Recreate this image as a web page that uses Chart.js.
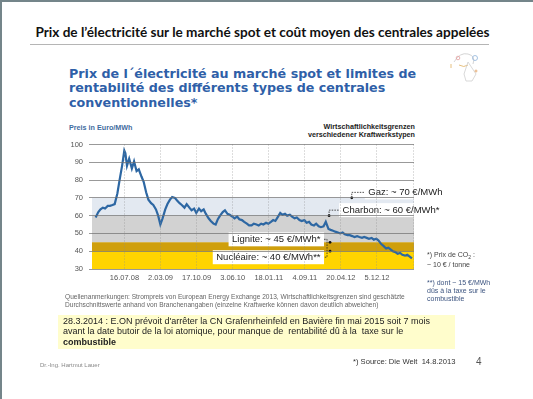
<!DOCTYPE html>
<html>
<head>
<meta charset="utf-8">
<script src="https://cdn.jsdelivr.net/npm/chart.js@4.4.1/dist/chart.umd.min.js"></script>
<style>
  body { margin: 0; background: #fff; }
  #slide { position: relative; width: 533px; height: 399px; overflow: hidden; background: #fff;
           font-family: "Liberation Sans", Arial, sans-serif; }
  #slide div { position: absolute; white-space: nowrap; }
  .frame { left: 0; top: 0; width: 533px; height: 399px; border-top: 2px solid #74858a; border-left: 2px solid #74858a; box-sizing: border-box; }
  #title { left: 0; top: 24px; width: 525px; text-align: center; font: 700 13.6px/16px Lato, sans-serif; color: #111; }
  #rule { left: 30px; top: 44px; width: 459px; height: 1px; background: #b5b5b5; }
  #logo { left: 446px; top: 48px; }
  #head { left: 69px; top: 67px; font-family: "DejaVu Sans", sans-serif; font-weight: 700; font-size: 12.7px; line-height: 14.3px; color: #2f5fa8; }
  #unit { left: 69px; top: 124px; font-weight: 700; font-size: 7.2px; line-height: 8px; color: #3f6ca0; }
  #wirt { left: 295px; top: 123px; width: 120px; text-align: right; font-weight: 700; font-size: 7.2px; line-height: 7.5px; color: #222; }
  #chartBox { left: 58px; top: 134px; width: 445px; height: 152px; }
  #note1 { left: 427px; top: 251px; font-size: 7px; line-height: 8px; color: #444; }
  #note2 { left: 427px; top: 279px; font-size: 7px; line-height: 8px; color: #3d5580; }
  #src { left: 65px; top: 293px; font-size: 6.6px; line-height: 7.5px; color: #666; }
  #news { left: 58px; top: 315px; width: 392px; height: 33px; background: #fffdcc; padding: 1px 0 0 5px;
          font-size: 9px; line-height: 10.3px; color: #222; }
  #author { left: 40px; top: 362px; font-size: 6px; color: #888; }
  #welt { left: 353px; top: 357px; font-size: 7.6px; color: #333; }
  #page { left: 476px; top: 356px; font-size: 10px; color: #555; }
</style>
</head>
<body>
<div id="slide">
  <div class="frame"></div>
  <div id="title">Prix de l’électricité sur le marché spot et coût moyen des centrales appelées</div>
  <div id="rule"></div>
  <div id="logo"><svg width="40" height="36" viewBox="0 0 40 36" fill="none" stroke-width="0.8">
    <path d="M8 14 Q14 4 22 6 Q30 8 27 16" stroke="#c9c9c9"/>
    <circle cx="29" cy="10" r="2.5" stroke="#8fb4dc"/>
    <circle cx="12" cy="10" r="1.8" stroke="#e3a0a0"/>
    <path d="M5 16 L5 20 M13 17 Q18 20 22 17" stroke="#e0b060"/>
    <path d="M22 14 L30 26 L26 33 L20 33 L18 26 Z" stroke="#cfcfcf"/>
    <circle cx="30" cy="23" r="1" stroke="#e0a060"/>
  </svg></div>
  <div id="head">Prix de l´électricité au marché spot et limites de<br>rentabilité des différents types de centrales<br>conventionnelles*</div>
  <div id="unit">Preis in Euro/MWh</div>
  <div id="wirt">Wirtschaftlichkeitsgrenzen<br>verschiedener Kraftwerkstypen</div>
  <div id="chartBox"><canvas id="priceChart" width="445" height="152"></canvas></div>
  <div id="note1">*) Prix de CO<sub style="font-size:5px">2</sub> :<br>~ 10 € / tonne</div>
  <div id="note2">**) dont ~ 15 €/MWh<br>dûs à la taxe sur le<br>combustible</div>
  <div id="src">Quellenanmerkungen: Strompreis von European Energy Exchange 2013, Wirtschaftlichkeitsgrenzen sind geschätzte<br>Durchschnittswerte anhand von Branchenangaben (einzelne Kraftwerke können davon deutlich abweichen)</div>
  <div id="news">28.3.2014 : E.ON prévoit d'arrêter la CN Grafenrheinfeld en Bavière fin mai 2015 soit 7 mois<br>avant la date butoir de la loi atomique, pour manque de&nbsp; rentabilité dû à la&nbsp; taxe sur le<br><b>combustible</b></div>
  <div id="author">Dr.-Ing. Hartmut Lauer</div>
  <div id="welt">*) Source: Die Welt&nbsp; 14.8.2013</div>
  <div id="page">4</div>
</div>
<script>
// spot price, Euro/MWh (about twice a month)
const dates = [
  '2008-01-15','2008-02-01','2008-02-15','2008-03-01','2008-03-15','2008-04-01','2008-04-15','2008-05-01','2008-05-15','2008-06-01','2008-06-15','2008-07-01','2008-07-15','2008-07-22',
  '2008-08-01','2008-08-15','2008-09-01','2008-09-15','2008-10-01','2008-10-15','2008-11-01','2008-11-15','2008-12-01','2008-12-15',
  '2009-01-01','2009-01-15','2009-02-01','2009-02-15','2009-03-01','2009-03-15','2009-04-01','2009-04-15','2009-05-01','2009-05-15','2009-06-01','2009-06-15',
  '2009-07-01','2009-07-15','2009-08-01','2009-08-15','2009-09-01','2009-09-15','2009-10-01','2009-10-15','2009-11-01','2009-11-15','2009-12-01','2009-12-15',
  '2010-01-01','2010-01-15','2010-02-01','2010-02-15','2010-03-01','2010-03-15','2010-04-01','2010-04-15','2010-05-01','2010-05-15','2010-06-01','2010-06-15',
  '2010-07-01','2010-07-15','2010-08-01','2010-08-15','2010-09-01','2010-09-15','2010-10-01','2010-10-15','2010-11-01','2010-11-15','2010-12-01','2010-12-15',
  '2011-01-01','2011-01-15','2011-02-01','2011-02-15','2011-03-01','2011-03-15','2011-04-01','2011-04-15','2011-05-01','2011-05-15','2011-06-01','2011-06-15',
  '2011-07-01','2011-07-15','2011-08-01','2011-08-15','2011-09-01','2011-09-15','2011-10-01','2011-10-15','2011-11-01','2011-11-15','2011-12-01','2011-12-15',
  '2012-01-01','2012-01-15','2012-02-01','2012-02-15','2012-03-01','2012-03-15','2012-04-01','2012-04-15','2012-05-01','2012-05-15','2012-06-01','2012-06-15',
  '2012-07-01','2012-07-15','2012-08-01','2012-08-15','2012-09-01','2012-09-15','2012-10-01','2012-10-15','2012-11-01','2012-11-15','2012-12-01','2012-12-15',
  '2013-01-01','2013-01-15','2013-02-01','2013-02-15','2013-03-01','2013-03-15','2013-04-01','2013-04-15','2013-05-01','2013-05-15','2013-06-01','2013-06-15',
  '2013-07-01','2013-07-15'
];
const prices = [
  59, 62, 63.5, 64.5, 64, 65.5, 65.5, 66, 66.5, 72.5, 80, 88, 96.5, 95,
  88, 92, 86.5, 90.5, 85, 86, 82, 79, 73, 69,
  67, 66, 63.5, 60, 55, 58.5, 63.5, 66.5, 69, 70.5, 70, 68.5,
  67, 66, 64.5, 66.5, 64.5, 63, 64, 61.5, 64, 62.5, 63.5, 61,
  58.5, 57, 55.5, 55, 58, 60, 62, 63, 61, 60.5, 59.5, 58.5,
  59.5, 58, 57.5, 56.5, 55.5, 54.5, 54.5, 55.5, 55, 54.5, 55.5, 55,
  56, 55.5, 56.5, 57.5, 57, 59, 61.5, 60.5, 61, 60, 60.5, 59.5,
  58.5, 59, 57.5, 57, 57.5, 56, 56.5, 55, 54.5, 55.5, 54, 53.5,
  54, 56.5, 52.5, 52, 51.5, 51, 50.5, 50, 50.5, 49.5, 49, 49,
  48.5, 48, 48.5, 48, 47.5, 48, 47.5, 47, 47.5, 46.5, 47, 46,
  44, 43, 41.5, 42, 41, 40, 39.5, 38.5, 39, 38, 37.5, 38,
  37, 36
];

// profitability limits of the plant types, Euro/MWh
const plantTypes = ['Nucléaire', 'Lignite', 'Charbon', 'Gaz'];
const plantLimits = [40, 45, 60, 70];
const plantNotes = ['Nucléaire: ~ 40 €/MWh**', 'Lignite: ~ 45 €/MWh*', 'Charbon: ~ 60 €/MWh*', 'Gaz: ~ 70 €/MWh'];

// x axis ticks
const tickDates = ['2008-07-16','2009-03-02','2009-10-17','2010-06-03','2011-01-18','2011-09-04','2012-04-20','2012-12-05','2013-07-22'];
const tickLabels = ['16.07.08','2.03.09','17.10.09','3.06.10','18.01.11','4.09.11','20.04.12','5.12.12',''];
const yTicks = [30, 40, 50, 60, 70, 80, 90, 100];

const dayOf = (s) => {
  const [y, m, d] = s.split('-').map(Number);
  return (Date.UTC(y, m - 1, d) - Date.UTC(2008, 0, 1)) / 86400000;
};
const xMin = dayOf('2007-12-23');
const xMax = dayOf('2013-07-28');
const tickDays = tickDates.map(dayOf);

const bandColors = ['#ffd400', '#cf9f0c', '#d2d2d2', '#e3e9f1'];
const bandSets = plantLimits.map((lim, i) => ({
  label: plantTypes[i],
  data: [{ x: xMin, y: lim }, { x: xMax, y: lim }],
  borderWidth: 0,
  pointRadius: 0,
  backgroundColor: bandColors[i],
  fill: i === 0 ? 'start' : '-1',
}));

const FONT = '"Liberation Sans", Arial, sans-serif';

// callout boxes with dotted leaders
const callouts = {
  id: 'callouts',
  afterDatasetsDraw(chart) {
    const { ctx, scales: { x, y } } = chart;
    ctx.save();
    ctx.font = '9.5px ' + FONT;
    ctx.textBaseline = 'middle';
    const dot = (px, py) => { ctx.fillStyle = '#111'; ctx.beginPath(); ctx.arc(px, py, 1.4, 0, Math.PI * 2); ctx.fill(); };
    const leader = (pts) => {
      ctx.strokeStyle = '#222'; ctx.lineWidth = 0.8; ctx.setLineDash([1.5, 1.2]);
      ctx.beginPath(); ctx.moveTo(pts[0][0], pts[0][1]);
      pts.slice(1).forEach(p => ctx.lineTo(p[0], p[1])); ctx.stroke(); ctx.setLineDash([]);
    };
    const box = (left, cy, text) => {
      const w = ctx.measureText(text).width;
      ctx.fillStyle = '#fff'; ctx.fillRect(left, cy - 7, w + 7, 14);
      ctx.fillStyle = '#222'; ctx.textAlign = 'left'; ctx.fillText(text, left + 3.5, cy + 0.5);
    };
    // Gaz
    let px = x.getPixelForValue(dayOf('2012-06-28')), py = y.getPixelForValue(plantLimits[3]);
    leader([[px, py], [px, py - 5.5], [px + 13, py - 5.5]]);
    dot(px, py);
    box(px + 13, py - 5.5, plantNotes[3]);
    // Charbon
    px = x.getPixelForValue(dayOf('2012-02-05')); py = y.getPixelForValue(plantLimits[2]);
    leader([[px, py], [px, py - 5.5], [px + 10, py - 5.5]]);
    dot(px, py);
    box(px + 10, py - 5.5, plantNotes[2]);
    // Lignite and Nucléaire, boxes left of the dots
    px = x.getPixelForValue(dayOf('2012-02-11'));
    const pyL = y.getPixelForValue(plantLimits[1]);
    const pyN = y.getPixelForValue(plantLimits[0]);
    leader([[px - 6, pyL - 3], [px - 3, pyL - 3], [px - 3, pyN + 6], [px - 6, pyN + 6]]);
    dot(px, pyL); dot(px, pyN);
    const wL = ctx.measureText(plantNotes[1]).width + 7;
    const wN = ctx.measureText(plantNotes[0]).width + 7;
    box(px - 6 - wL, pyL - 3, plantNotes[1]);
    box(px - 6 - wN, pyN + 6, plantNotes[0]);
    ctx.restore();
  }
};

new Chart(document.getElementById('priceChart'), {
  type: 'line',
  data: {
    datasets: [
      {
        label: 'Spot',
        data: dates.map((d, i) => ({ x: dayOf(d), y: prices[i] })),
        borderColor: '#2d67a3',
        borderWidth: 2.2,
        pointRadius: 0,
        tension: 0,
        fill: false,
      },
      ...bandSets,
    ],
  },
  options: {
    responsive: false,
    animation: false,
    layout: { padding: { top: 4, right: 89, left: 0, bottom: 0 } },
    plugins: { legend: { display: false }, tooltip: { enabled: false } },
    scales: {
      x: {
        type: 'linear',
        min: xMin,
        max: xMax,
        afterBuildTicks: (s) => { s.ticks = tickDays.map(v => ({ value: v })); },
        afterFit: (s) => { s.height = 17; },
        border: { display: false, dash: [1, 2] },
        grid: { z: 1, color: 'rgba(140,140,140,0.6)', lineWidth: 1, drawTicks: false },
        ticks: {
          padding: 4,
          maxRotation: 0,
          autoSkip: false,
          color: '#555',
          font: { family: FONT, size: 7.5 },
          callback: (v) => tickLabels[tickDays.indexOf(v)] ?? '',
        },
      },
      y: {
        min: 30,
        max: 100,
        afterBuildTicks: (s) => { s.ticks = yTicks.map(v => ({ value: v })); },
        afterFit: (s) => { s.width = 34; },
        border: { display: false },
        grid: { z: 1, color: 'rgba(110,110,110,0.7)', lineWidth: 1, tickLength: 3 },
        ticks: { padding: 6, color: '#555', font: { family: FONT, size: 7.5 } },
      },
    },
  },
  plugins: [callouts],
});
</script>
</body>
</html>
